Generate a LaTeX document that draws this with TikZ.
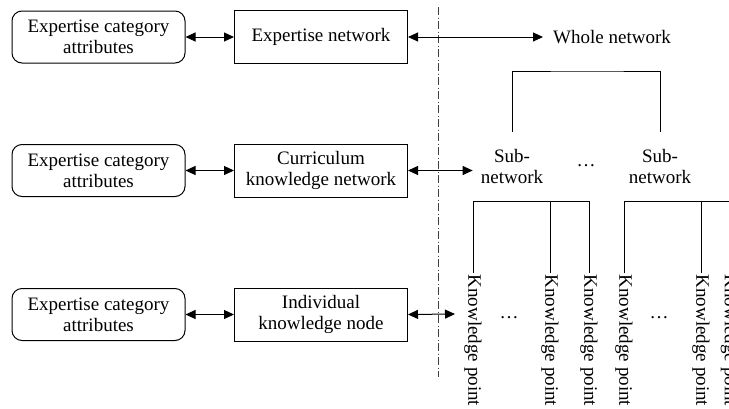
\documentclass[tikz,border=0pt]{standalone}
\usepackage{fontspec}
\setmainfont{Liberation Serif}
\usetikzlibrary{arrows.meta,calc}
\begin{document}
\begin{tikzpicture}[x=1pt,y=-1pt,
  every node/.style={font=\fontsize{19}{21}\selectfont, inner sep=0pt},
  attrbox/.style={draw, line width=1pt, rounded corners=10pt, minimum width=173pt, minimum height=52pt, align=center},
  netbox/.style={draw, line width=1pt, minimum width=173pt, minimum height=53pt, align=center},
  subnet/.style={align=center, minimum height=69pt, inner xsep=8pt},
  kpnode/.style={rotate=-90, anchor=west, inner xsep=1.5pt},
  biarrow/.style={line width=1pt, {Triangle[length=10pt,width=9pt]}-{Triangle[length=10pt,width=9pt]}},
  conn/.style={line width=1pt},
  divider/.style={line width=0.9pt, black!75, dash pattern=on 8pt off 2.5pt on 1pt off 2.5pt}
]
\clip (0,0) rectangle (729,408);
% left column
\node[attrbox] (attr1) at (98.5,37) {Expertise category\\attributes};
\node[attrbox] (attr2) at (98.5,170.5) {Expertise category\\attributes};
\node[attrbox] (attr3) at (98.5,314.5) {Expertise category\\attributes};
\node[netbox] (net1) at (321,37) {Expertise network};
\node[netbox] (net2) at (321,170.5) {Curriculum\\knowledge network};
\node[netbox] (net3) at (321,314.5) {Individual\\knowledge node};
% divider
\coordinate (dtop) at (438,7);
\coordinate (dbot) at (438,377);
\draw[divider] (dtop) -- (dbot);
% right side
\node[anchor=west, inner xsep=10pt] (whole) at (543,37) {Whole network};
\node[subnet] (sub1) at (512,166.5) {Sub-\\network};
\node[subnet] (sub2) at (660,166.5) {Sub-\\network};
\node (dots1) at (586,166) {\dots};
\coordinate (wtop) at (588,71);
\coordinate (c3) at (455,314);
\node[kpnode] (kp1) at (473,273) {Knowledge point};
\node[kpnode] (kp2) at (550,273) {Knowledge point};
\node[kpnode] (kp3) at (589,273) {Knowledge point};
\node[kpnode] (kp4) at (624,273) {Knowledge point};
\node[kpnode] (kp5) at (701,273) {Knowledge point};
\node[kpnode] (kp6) at (729.5,273) {Knowledge point};
\node (dots2) at (509,318) {\dots};
\node (dots3) at (659,318) {\dots};
% arrows
\draw[biarrow] (attr1.east) -- (net1.west);
\draw[biarrow] (attr2.east) -- (net2.west);
\draw[biarrow] (attr3.east) -- (net3.west);
\draw[biarrow] (net1.east) -- (whole.west);
\draw[biarrow] (net2.east) -- (net2.east -| sub1.west);
\draw[biarrow] (net3.east) -- (c3);
% brackets
\draw[conn] (sub1.north) |- (wtop) -| (sub2.north);
\draw[conn] (kp1.west) |- (sub1.south) -| (kp3.west);
\draw[conn] (kp2.west) -- (kp2.west |- sub1.south);
\draw[conn] (kp4.west) |- (sub2.south) -| (kp6.west);
\draw[conn] (kp5.west) -- (kp5.west |- sub2.south);
\end{tikzpicture}
\end{document}
